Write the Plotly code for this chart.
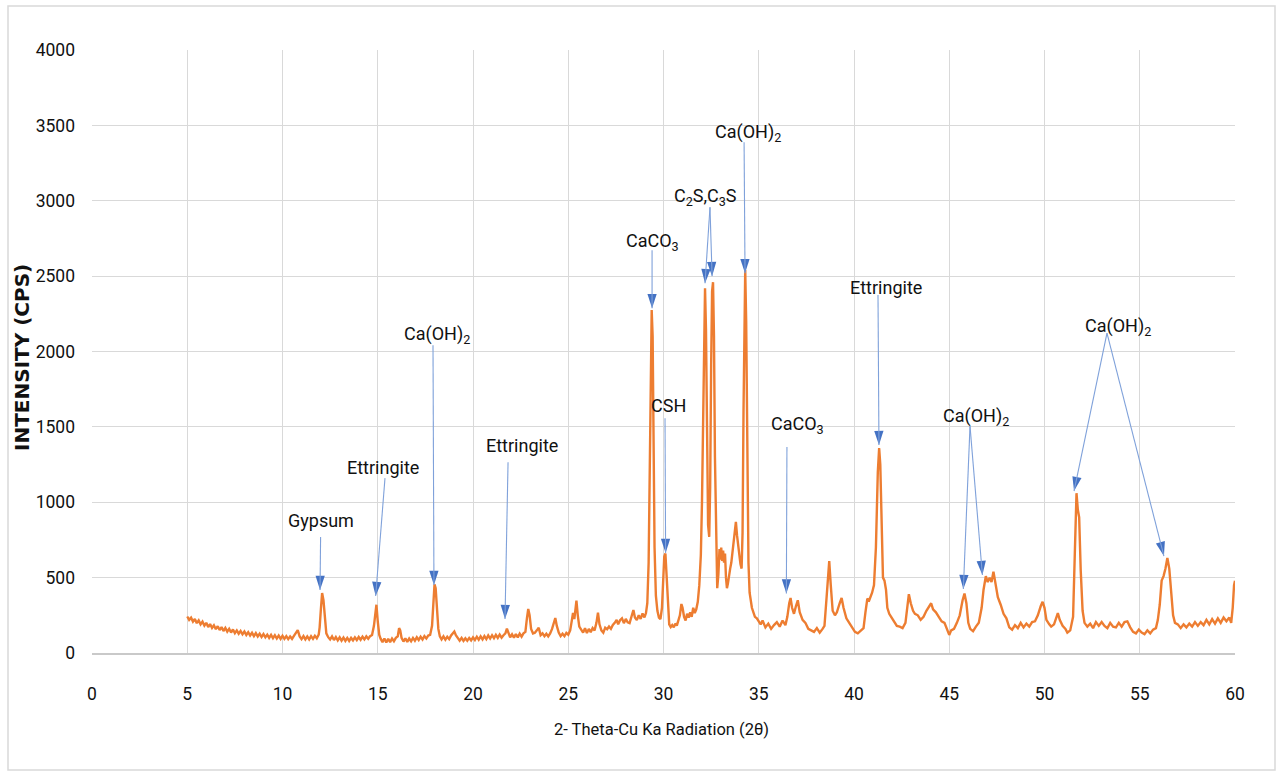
import math
import plotly.graph_objects as go

# ---------------- data ----------------
theta_a = [5.0, 5.1, 5.2, 5.3, 5.4, 5.5, 5.6, 5.7, 5.8, 5.9,
           6.0, 6.1, 6.2, 6.3, 6.4, 6.5, 6.6, 6.7, 6.8, 6.9,
           7.0, 7.1, 7.2, 7.3, 7.4, 7.5, 7.6, 7.7, 7.8, 7.9,
           8.0, 8.1, 8.2, 8.3, 8.4, 8.5, 8.6, 8.7, 8.8, 8.9,
           9.0, 9.1, 9.2, 9.3, 9.4, 9.5, 9.6, 9.7, 9.8, 9.9,
           10.0, 10.1, 10.2, 10.3, 10.4, 10.5, 10.6, 10.7, 10.8, 10.9,
           11.0, 11.1, 11.2, 11.3, 11.4, 11.5, 11.6, 11.7, 11.8, 11.9]
counts_a = [242, 220, 234, 208, 226, 198, 216, 190, 208, 182,
            200, 172, 192, 166, 184, 158, 178, 152, 172, 146,
            166, 142, 160, 136, 156, 132, 150, 128, 146, 124,
            142, 120, 138, 116, 134, 112, 132, 110, 128, 106,
            126, 104, 122, 100, 120, 98, 118, 96, 116, 94,
            114, 94, 112, 92, 110, 94, 114, 130, 152, 110,
            92, 112, 90, 110, 90, 112, 94, 114, 98, 122]

theta_b = [11.95, 12.02, 12.08, 12.15, 12.22, 12.3, 12.4, 12.5, 12.6, 12.7,
           12.8, 12.9, 13.0, 13.1, 13.2, 13.3, 13.4, 13.5, 13.6, 13.7,
           13.8, 13.9, 14.0, 14.1, 14.2, 14.3, 14.4, 14.5, 14.6, 14.7,
           14.8, 14.88, 14.93, 15.0, 15.08, 15.15, 15.25, 15.35, 15.45, 15.55,
           15.65, 15.75, 15.85, 15.95, 16.05, 16.12, 16.18, 16.25, 16.35, 16.45,
           16.55, 16.65, 16.75, 16.85, 16.95, 17.05, 17.15, 17.25, 17.35, 17.45,
           17.55, 17.65, 17.75, 17.85, 17.92, 17.98, 18.04, 18.1, 18.18, 18.26,
           18.35, 18.45, 18.55, 18.65, 18.75, 18.85, 18.95, 19.02, 19.1, 19.2,
           19.3, 19.4, 19.5, 19.6, 19.7, 19.8, 19.9]
counts_b = [170, 300, 398, 350, 220, 130, 105, 90, 110, 86,
            106, 84, 104, 82, 102, 80, 100, 80, 100, 84,
            104, 86, 106, 88, 108, 90, 110, 94, 112, 120,
            180, 300, 320, 210, 120, 95, 72, 96, 70, 94,
            72, 96, 78, 100, 110, 165, 150, 100, 76, 98,
            74, 96, 78, 100, 82, 104, 86, 108, 90, 112,
            96, 116, 120, 180, 330, 455, 430, 290, 160, 110,
            90, 110, 88, 108, 92, 116, 130, 142, 118, 100,
            82, 100, 80, 98, 82, 100, 84]

theta_c = [20.0, 20.1, 20.2, 20.3, 20.4, 20.5, 20.6, 20.7, 20.8, 20.9,
           21.0, 21.1, 21.2, 21.3, 21.4, 21.5, 21.6, 21.7, 21.78, 21.86,
           21.95, 22.05, 22.15, 22.25, 22.35, 22.45, 22.55, 22.65, 22.75, 22.83,
           22.9, 22.97, 23.05, 23.15, 23.25, 23.35, 23.45, 23.55, 23.65, 23.75,
           23.85, 23.95, 24.05, 24.15, 24.25, 24.32, 24.4, 24.5, 24.6, 24.7,
           24.8, 24.9, 25.0, 25.1, 25.18, 25.25, 25.32, 25.38, 25.43, 25.5,
           25.58, 25.68, 25.78, 25.88, 25.98, 26.08, 26.18, 26.28, 26.38, 26.48,
           26.56, 26.64, 26.74, 26.84, 26.94, 27.04, 27.14, 27.24, 27.34, 27.44,
           27.54, 27.62, 27.72, 27.82, 27.92, 28.02, 28.12, 28.22, 28.32, 28.42,
           28.5, 28.6, 28.7, 28.8, 28.9, 29.0, 29.08, 29.15]
counts_c = [104, 86, 108, 88, 110, 90, 112, 92, 116, 96,
            118, 98, 120, 100, 122, 102, 118, 130, 162, 135,
            104, 124, 102, 126, 104, 128, 108, 130, 140, 230,
            292, 250, 160, 130, 135, 150, 168, 118, 130, 112,
            128, 110, 130, 160, 205, 232, 180, 135, 112, 128,
            112, 134, 122, 150, 210, 265, 225, 300, 348, 250,
            175, 155, 135, 165, 132, 160, 138, 166, 150, 200,
            268, 190, 150, 135, 168, 158, 176, 160, 186, 200,
            220, 190, 218, 230, 198, 226, 204, 198, 240, 285,
            235, 218, 250, 226, 262, 236, 265, 330]

theta_d = [29.22, 29.28, 29.34, 29.38, 29.43, 29.48, 29.53, 29.6, 29.68, 29.76,
           29.84, 29.92, 29.98, 30.04, 30.1, 30.16, 30.22, 30.3, 30.38, 30.46,
           30.54, 30.62, 30.7, 30.78, 30.86, 30.94, 31.0, 31.08, 31.16, 31.24,
           31.32, 31.4, 31.48, 31.56, 31.64, 31.72, 31.8, 31.88, 31.96, 32.02,
           32.08, 32.14, 32.18, 32.23, 32.28, 32.34, 32.4, 32.45, 32.5, 32.55,
           32.6, 32.65, 32.7, 32.76, 32.82, 32.88, 32.94, 32.98, 33.03, 33.08,
           33.13, 33.18, 33.23, 33.28, 33.33, 33.38, 33.44, 33.5, 33.56, 33.62,
           33.68, 33.74, 33.8, 33.86, 33.92, 33.98, 34.04, 34.1, 34.15, 34.2,
           34.25, 34.29, 34.34, 34.4, 34.46, 34.52, 34.58, 34.64, 34.72, 34.8,
           34.9]
counts_d = [600, 1300, 2050, 2275, 2100, 1400, 700, 380, 280, 235,
            225, 300, 480, 640, 660, 520, 300, 190, 172, 185,
            170, 195, 182, 210, 250, 325, 300, 240, 215, 260,
            235, 270, 240, 300, 265, 290, 340, 450, 650, 1000,
            1700, 2300, 2420, 2150, 1400, 850, 770, 1100, 1900, 2400,
            2460, 2100, 1300, 700, 430, 520, 690, 620, 700, 610,
            680, 600, 660, 500, 430, 460, 520, 560, 600, 680,
            760, 820, 870, 780, 700, 640, 590, 560, 800, 1600,
            2350, 2540, 2200, 1200, 600, 400, 330, 300, 270, 240,
            230]

theta_e = [35.0, 35.1, 35.2, 35.35, 35.5, 35.65, 35.8, 35.95, 36.1, 36.25,
           36.4, 36.5, 36.6, 36.67, 36.75, 36.85, 36.95, 37.05, 37.15, 37.3,
           37.45, 37.6, 37.75, 37.9, 38.05, 38.2, 38.35, 38.45, 38.55, 38.62,
           38.7, 38.78, 38.88, 39.0, 39.1, 39.25, 39.35, 39.45, 39.6, 39.75,
           39.9, 40.05, 40.2, 40.35, 40.5, 40.6, 40.7, 40.8, 40.95, 41.05,
           41.15, 41.25, 41.32, 41.38, 41.45, 41.52, 41.6, 41.68, 41.75, 41.85,
           41.95, 42.1, 42.25, 42.4, 42.55, 42.7, 42.8, 42.88, 42.98, 43.1,
           43.2, 43.35, 43.5, 43.65, 43.8, 43.95, 44.05, 44.15, 44.3, 44.45,
           44.6, 44.75, 44.9, 45.0, 45.1, 45.25, 45.4, 45.55, 45.7, 45.8,
           45.9, 46.0, 46.1, 46.25, 46.4, 46.55, 46.7, 46.8, 46.92, 47.02,
           47.12, 47.22, 47.32, 47.42, 47.55, 47.7, 47.85, 48.0, 48.15, 48.3,
           48.45, 48.6, 48.75, 48.9, 49.05, 49.2, 49.35, 49.5, 49.65, 49.8,
           49.9, 50.0, 50.1, 50.25, 50.35, 50.5, 50.6, 50.7, 50.8, 50.95,
           51.1, 51.2, 51.35, 51.5, 51.6, 51.68, 51.75, 51.82, 51.9, 52.0,
           52.1, 52.25, 52.4, 52.55, 52.7, 52.85, 53.0, 53.15, 53.3, 53.45,
           53.6, 53.75, 53.9, 54.05, 54.2, 54.35, 54.5, 54.65, 54.8, 54.95,
           55.1, 55.25, 55.4, 55.55, 55.7, 55.85, 55.95, 56.05, 56.15, 56.25,
           56.35, 56.45, 56.55, 56.65, 56.75, 56.85, 57.0, 57.15, 57.3, 57.45,
           57.6, 57.75, 57.9, 58.05, 58.2, 58.35, 58.5, 58.65, 58.8, 58.95,
           59.1, 59.25, 59.4, 59.55, 59.7, 59.8, 59.88, 59.95, 60.0]
counts_e = [210, 190, 215, 170, 195, 160, 185, 205, 175, 215,
            185, 240, 330, 365, 300, 260, 310, 350, 270, 220,
            200, 160, 150, 140, 165, 135, 160, 180, 350, 500,
            610, 450, 280, 250, 270, 330, 365, 300, 230, 200,
            170, 140, 130, 150, 165, 270, 360, 350, 400, 450,
            700, 1200, 1360, 1250, 800, 500, 480, 420, 300, 260,
            240, 210, 180, 175, 165, 200, 300, 390, 330, 280,
            260, 250, 220, 240, 280, 310, 330, 290, 270, 240,
            210, 200, 150, 120, 150, 160, 200, 250, 350, 395,
            330, 200, 160, 145, 175, 200, 300, 420, 510, 470,
            500, 470, 540, 460, 370, 320, 260, 230, 170, 155,
            185, 165, 200, 170, 195, 175, 205, 210, 250, 310,
            340, 300, 220, 190, 175, 190, 230, 265, 220, 180,
            160, 135, 150, 240, 700, 1060, 950, 900, 550, 280,
            200, 175, 195, 165, 205, 180, 205, 180, 165, 200,
            175, 170, 200, 175, 205, 210, 170, 140, 130, 155,
            135, 125, 150, 130, 155, 165, 220, 320, 480, 510,
            560, 630, 560, 400, 250, 200, 190, 165, 190, 170,
            195, 175, 205, 180, 205, 185, 220, 190, 225, 195,
            230, 200, 235, 210, 235, 200, 300, 450, 480]

# phase labels
label_text = ["Gypsum", "Ettringite", "Ca(OH)<sub>2</sub>", "Ettringite",
              "CaCO<sub>3</sub>", "C<sub>2</sub>S,C<sub>3</sub>S", "Ca(OH)<sub>2</sub>",
              "CSH", "CaCO<sub>3</sub>", "Ettringite", "Ca(OH)<sub>2</sub>",
              "Ca(OH)<sub>2</sub>"]
label_x = [12.02, 15.28, 18.11, 22.57, 29.40, 32.23, 34.44, 30.24, 37.06, 41.68, 46.40, 53.86]
label_y = [882, 1233, 2109, 1379, 2725, 3023, 3448, 1644, 1512, 2427, 1565, 2161]

# arrows: from tail (below label) to tip (at peak)
arrow_tail_x = [12.0, 15.38, 17.9, 21.84, 29.40, 32.44, 32.44, 34.23, 30.08, 36.48, 41.26, 46.09, 46.09, 53.28, 53.28]
arrow_tail_y = [769, 1160, 2042, 1266, 2672, 2957, 2957, 3388, 1558, 1366, 2374, 1505, 1505, 2122, 2122]
arrow_tip_x = [11.97, 14.89, 17.95, 21.68, 29.40, 32.18, 32.55, 34.28, 30.11, 36.45, 41.31, 45.74, 46.74, 51.55, 56.27]
arrow_tip_y = [418, 378, 451, 225, 2287, 2453, 2500, 2519, 663, 395, 1379, 424, 517, 1074, 643]

x_ticks = list(range(0, 61, 5))
y_ticks = list(range(0, 4001, 500))

# ---------------- figure ----------------
for a, b in [(theta_a, counts_a), (theta_b, counts_b), (theta_c, counts_c),
             (theta_d, counts_d), (theta_e, counts_e)]:
    assert len(a) == len(b)

two_theta = theta_a + theta_b + theta_c + theta_d + theta_e
intensity = counts_a + counts_b + counts_c + counts_d + counts_e

W, H = 1282, 777
ML, MR, MT, MB = 92, 47, 50, 124
PW, PH = W - ML - MR, H - MT - MB
X_RANGE = [0, 60]
Y_RANGE = [0, 4000]
px_x = PW / (X_RANGE[1] - X_RANGE[0])
px_y = PH / (Y_RANGE[1] - Y_RANGE[0])

FONT = "Roboto, Liberation Sans, sans-serif"
TXT = "#111111"

fig = go.Figure()
fig.add_trace(go.Scatter(x=two_theta, y=intensity, mode="lines",
                         line=dict(color="#ED7D31", width=2.4),
                         hoverinfo="skip", showlegend=False))

shapes = []
annotations = []

# arrow shafts (light blue)
for tx, ty, hx, hy in zip(arrow_tail_x, arrow_tail_y, arrow_tip_x, arrow_tip_y):
    shapes.append(dict(type="line", xref="x", yref="y", x0=tx, y0=ty, x1=hx, y1=hy,
                       line=dict(color="#7FA1DA", width=1.1), layer="above"))

# arrow heads (darker blue) as oriented arrow markers whose tip sits on the peak
head_angles = []
for tx, ty, hx, hy in zip(arrow_tail_x, arrow_tail_y, arrow_tip_x, arrow_tip_y):
    ux = (hx - tx) * px_x
    uy = (hy - ty) * px_y
    head_angles.append(math.degrees(math.atan2(ux, uy)))
fig.add_trace(go.Scatter(x=arrow_tip_x, y=arrow_tip_y, mode="markers",
                         marker=dict(symbol="arrow", size=15, angle=head_angles,
                                     color="#4472C4", line=dict(width=0)),
                         hoverinfo="skip", showlegend=False, cliponaxis=False))

for t, lx, ly in zip(label_text, label_x, label_y):
    annotations.append(dict(x=lx, y=ly, xref="x", yref="y", text=t, showarrow=False,
                            xanchor="center", yanchor="middle",
                            font=dict(family=FONT, size=18, color=TXT)))

# axis titles
annotations.append(dict(x=(661 - ML) / PW, y=-(729 - (MT + PH)) / PH, xref="paper", yref="paper",
                        text="2- Theta-Cu Ka Radiation (2θ)", showarrow=False,
                        xanchor="center", yanchor="middle",
                        font=dict(family=FONT, size=16.5, color=TXT)))
annotations.append(dict(x=(22 - ML) / PW, y=((MT + PH) - 358) / PH, xref="paper", yref="paper",
                        text="<b>INTENSITY (CPS)</b>", showarrow=False, textangle=-90,
                        xanchor="center", yanchor="middle",
                        font=dict(family="DejaVu Sans, sans-serif", size=20, color=TXT)))

# outer chart border
shapes.append(dict(type="rect", xref="paper", yref="paper",
                   x0=(8 - ML) / PW, x1=(1275 - ML) / PW,
                   y0=((MT + PH) - 770) / PH, y1=((MT + PH) - 6) / PH,
                   line=dict(color="#D9D9D9", width=1.5), layer="below"))

fig.update_layout(
    width=W, height=H,
    margin=dict(l=ML, r=MR, t=MT, b=MB),
    paper_bgcolor="white", plot_bgcolor="white",
    shapes=shapes, annotations=annotations,
    xaxis=dict(range=X_RANGE, tickvals=x_ticks, showgrid=True, gridcolor="#D9D9D9",
               gridwidth=1.3, zeroline=False, showline=True, linecolor="#C9C9C9",
               linewidth=2, ticks="", ticklabelstandoff=24,
               tickfont=dict(family=FONT, size=17.5, color=TXT)),
    yaxis=dict(range=Y_RANGE, tickvals=y_ticks, showgrid=True, gridcolor="#D9D9D9",
               gridwidth=1.3, zeroline=False, showline=False, ticks="",
               ticklabelstandoff=16,
               tickfont=dict(family=FONT, size=17.5, color=TXT)),
)

fig.write_html("out.html")
